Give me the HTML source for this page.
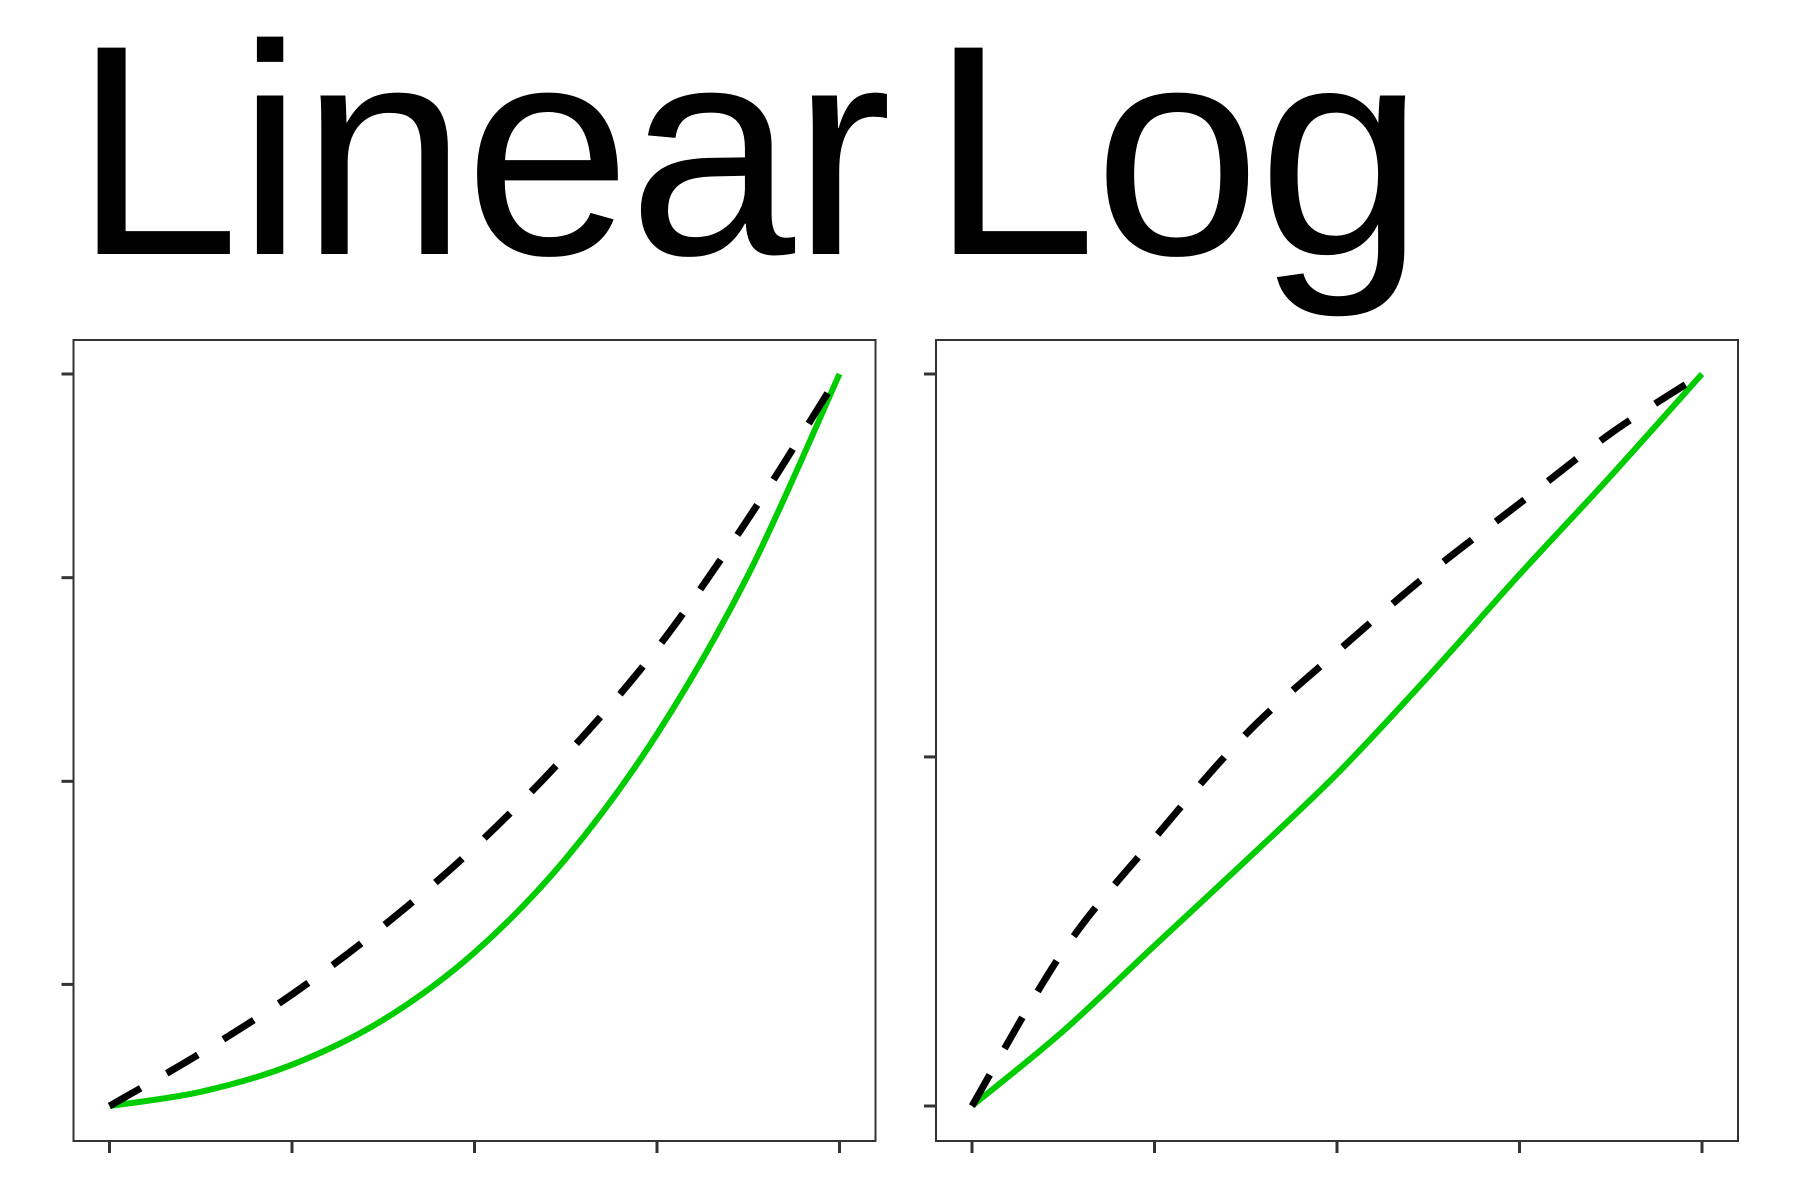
<!DOCTYPE html>
<html><head><meta charset="utf-8"><style>
html,body{margin:0;padding:0;background:#fff;}
svg{display:block;}
</style></head><body>
<svg width="1800" height="1200" viewBox="0 0 1800 1200" xmlns="http://www.w3.org/2000/svg">
<text x="73" y="254" font-family="Liberation Sans, sans-serif" font-size="300" letter-spacing="-3" fill="#000">Linear</text>
<text x="930" y="254" font-family="Liberation Sans, sans-serif" font-size="300" letter-spacing="-3" fill="#000">Log</text>
<g id="panels"></g>
</svg>
<script>
const xValues = [0, 0.5, 1, 1.5, 2, 2.5, 3, 3.5, 4];
const xTicks = [0, 1, 2, 3, 4];
const linearSolid = [1, 3.4, 8, 15.6, 27, 42.9, 64, 91, 125];
const linearDashed = [1, 9.95, 19.9, 31.5, 44.8, 60.4, 78.5, 100.5, 125];
const logSolid = [1, 1.64, 2.88, 5.04, 8.94, 17.0, 33.3, 63.8, 125];
const logDashed = [1, 2.78, 5.85, 11.6, 20.0, 33.4, 53.2, 84.5, 125];
const linearYTicks = [21.6, 56, 90.5, 125];
const logYTicks = [1, 10, 125];

const NS = 'http://www.w3.org/2000/svg';
const root = document.getElementById('panels');
function mk(tag, attrs, parent){const e=document.createElementNS(NS,tag);for(const k in attrs)e.setAttribute(k,attrs[k]);parent.appendChild(e);return e;}
function smooth(pts){
  let d='M'+pts[0][0]+','+pts[0][1];
  for(let i=0;i<pts.length-1;i++){
    const p0=pts[Math.max(0,i-1)],p1=pts[i],p2=pts[i+1],p3=pts[Math.min(pts.length-1,i+2)];
    const c1=[p1[0]+(p2[0]-p0[0])/6,p1[1]+(p2[1]-p0[1])/6];
    const c2=[p2[0]-(p3[0]-p1[0])/6,p2[1]-(p3[1]-p1[1])/6];
    d+=' C'+c1[0]+','+c1[1]+' '+c2[0]+','+c2[1]+' '+p2[0]+','+p2[1];
  }
  return d;
}
function panel(name, left, isLog, solid, dashed, yTicks){
  const right=left+802, top=340, bottom=1141;
  const x0=left+36, x1=left+766, yTop=374, yBot=1106;
  const xs=v=>x0+(v-0)/(4-0)*(x1-x0);
  const ys=isLog? v=>yBot-(Math.log(v)-Math.log(1))/(Math.log(125)-Math.log(1))*(yBot-yTop)
                : v=>yBot-(v-1)/(125-1)*(yBot-yTop);
  const g=mk('g',{},root);
  
  
  const frame=mk('rect',{x:left,y:top,width:right-left,height:bottom-top,fill:'none',stroke:'#333','stroke-width':2},g);
  
  
  xTicks.forEach(t=>{
    const l=mk('line',{x1:xs(t),x2:xs(t),y1:bottom,y2:bottom+12,stroke:'#333','stroke-width':3},g);
    
    
  });
  yTicks.forEach(t=>{
    const l=mk('line',{x1:left-12,x2:left,y1:ys(t),y2:ys(t),stroke:'#333','stroke-width':3},g);
    
    
  });
  const sp=smooth(xValues.map((x,i)=>[xs(x),ys(solid[i])]));
  const s=mk('path',{d:sp,fill:'none',stroke:'#00CC00','stroke-width':6},g);
  
  
  const dp=smooth(xValues.map((x,i)=>[xs(x),ys(dashed[i])]));
  const d=mk('path',{d:dp,fill:'none',stroke:'#000','stroke-width':7,'stroke-dasharray':'36 30'},g);
  
  
}
panel('linear', 73.5, false, linearSolid, linearDashed, linearYTicks);
panel('log', 936, true, logSolid, logDashed, logYTicks);
</script>
</body></html>
